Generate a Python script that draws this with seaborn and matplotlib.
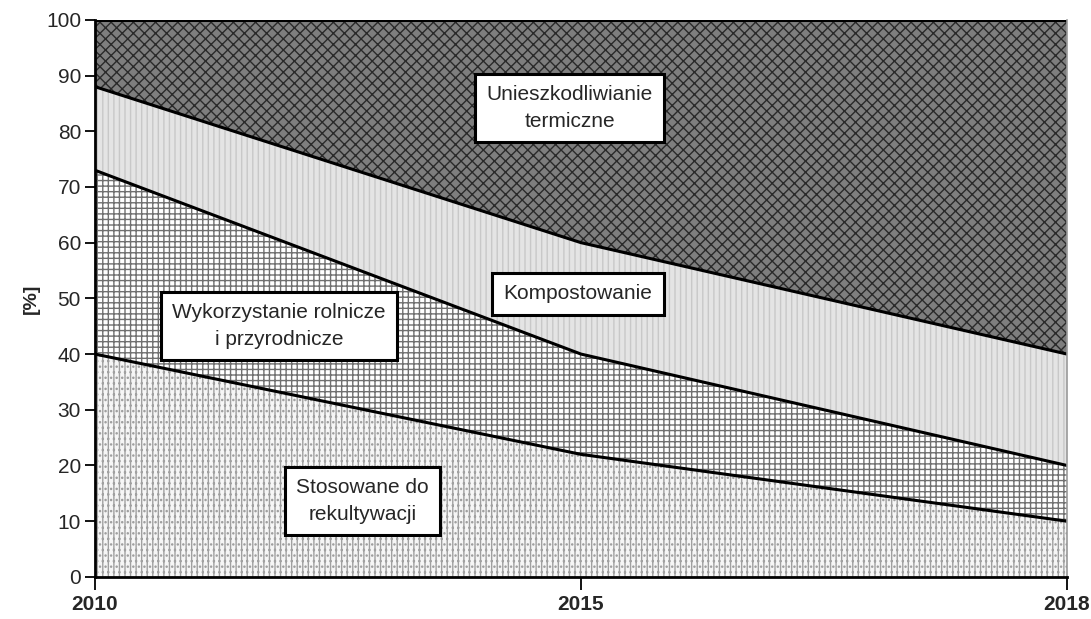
import matplotlib
matplotlib.use("Agg")
import matplotlib.pyplot as plt
import seaborn as sns
import numpy as np
import pandas as pd

years = ["2010", "2015", "2018"]
rekultywacja = [40, 22, 10]
rolnicze = [33, 18, 10]
kompostowanie = [15, 20, 20]
termiczne = [12, 40, 60]

labels = ["Stosowane do\nrekultywacji", "Wykorzystanie rolnicze\ni przyrodnicze",
          "Kompostowanie", "Unieszkodliwianie\ntermiczne"]

sns.set_style("white")
plt.rcParams['font.family'] = ['Liberation Sans', 'DejaVu Sans']
plt.rcParams['hatch.linewidth'] = 1.0

fig = plt.figure(figsize=(10.91, 6.19), dpi=100)
ax = fig.add_axes([0.087, 0.068, 0.891, 0.9])

x = np.arange(len(years))
series = [rekultywacja, rolnicze, kompostowanie, termiczne]
cum = np.cumsum(np.array(series), axis=0)
bottoms = np.vstack([np.zeros(len(years)), cum[:-1]])

styles = [
    dict(facecolor="#f6f6f6", edgecolor="#a0a0a0", hatch="|||..."),
    dict(facecolor="#ffffff", edgecolor="#707070", hatch="+++"),
    dict(facecolor="#e4e4e4", edgecolor="#c8c8c8", hatch="|||"),
    dict(facecolor="#7e7e7e", edgecolor="#2a2a2a", hatch="xxx"),
]
for b, t, st in zip(bottoms, cum, styles):
    ax.fill_between(x, b, t, linewidth=0, **st)

df = pd.DataFrame({"x": np.tile(x, 4), "y": cum.flatten(),
                   "s": np.repeat(np.arange(4), len(years))})
sns.lineplot(data=df, x="x", y="y", units="s", estimator=None, color="black",
             linewidth=2.2, ax=ax, legend=False)

ax.set_xlim(0, 2)
ax.set_ylim(0, 100)
ax.set_yticks(range(0, 101, 10))
ax.set_xticks(x)
ax.set_xticklabels(years, fontweight="bold", fontsize=15)
ax.tick_params(axis="y", labelsize=15, length=7, width=1.3, color="black", left=True, pad=3)
ax.tick_params(axis="x", length=9, width=1.3, color="black", bottom=True, pad=4)
ax.set_xlabel("")
ax.set_ylabel("[%]", fontweight="bold", fontsize=14)
ax.yaxis.set_label_coords(-0.057, 0.5)

for side in ["left", "bottom"]:
    ax.spines[side].set_color("black")
    ax.spines[side].set_linewidth(2)
ax.spines["top"].set_visible(False)
ax.spines["right"].set_color("#999999")
ax.spines["right"].set_linewidth(1.2)

box = dict(boxstyle="square,pad=0.55", facecolor="white", edgecolor="black", linewidth=2.2)
positions = [(0.551, 13.6), (0.379, 45.0), (0.994, 50.8), (0.977, 84.2)]
for (px, py), lab in zip(positions, labels):
    ax.text(px, py, lab, ha="center", va="center", fontsize=15, bbox=box,
            linespacing=1.5, zorder=5)

fig.savefig("out.png", dpi=100)
